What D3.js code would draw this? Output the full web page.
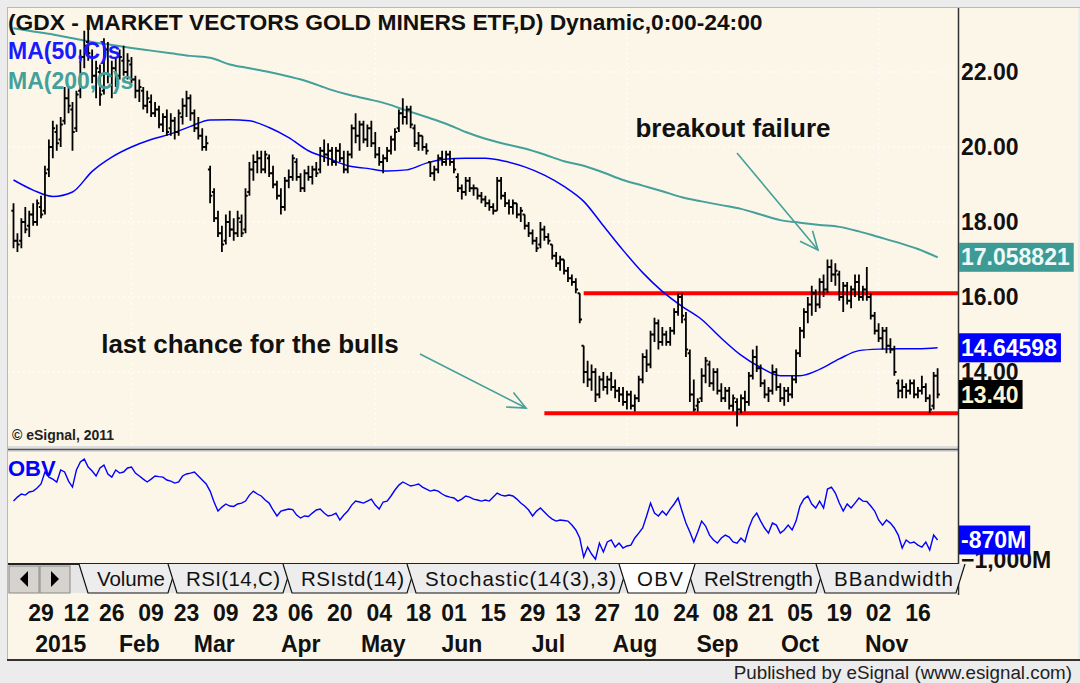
<!DOCTYPE html>
<html>
<head>
<meta charset="utf-8">
<script src="https://cdn.jsdelivr.net/npm/d3@7"></script>
<style>
  body { margin: 0; background: #ececec; }
  svg { display: block; }
  text { font-family: "Liberation Sans", Arial, sans-serif; }
</style>
</head>
<body>
<div id="chart"></div>
<script>
// trading calendar
var firstDay = "2014-12-17", lastDay = "2015-11-23";
var holidays = ["2014-12-25","2015-01-01","2015-01-19","2015-02-16","2015-04-03","2015-05-25","2015-07-03","2015-09-07"];

// daily bars [open, high, low, close]
var bars = [
  [18.3,18.5,17.3,17.5],[17.5,17.7,17.2,17.4],[17.5,18.1,17.3,18.0],[18.0,18.4,17.7,17.8],[17.9,18.3,17.6,18.2],
  [18.2,18.5,17.9,18.0],[18.0,18.6,17.9,18.5],[18.4,18.7,18.1,18.2],[18.3,19.5,18.2,19.3],[19.4,20.2,19.2,20.0],
  [20.0,20.7,19.7,20.5],[20.4,20.6,19.9,20.1],[20.2,20.8,20.0,20.6],[20.7,21.6,20.6,21.3],[21.3,21.6,20.9,21.1],
  [21.0,21.2,19.9,20.4],[20.5,21.5,20.4,21.4],[21.5,22.6,21.3,22.4],[22.4,23.1,22.1,22.7],[22.8,23.2,22.3,22.5],
  [22.4,22.6,21.7,21.9],[21.9,22.3,21.3,22.1],[22.0,22.2,21.1,21.4],[21.5,22.9,21.4,22.6],[22.6,22.8,21.7,21.9],
  [21.9,22.3,21.3,22.1],[22.1,22.4,21.6,21.8],[21.9,22.6,21.8,22.4],[22.3,22.7,21.9,22.0],[22.0,22.5,21.8,22.3],
  [22.2,22.4,21.7,21.8],[21.8,21.9,21.3,21.5],[21.5,21.8,21.2,21.6],[21.5,21.6,21.0,21.1],[21.1,21.5,20.9,21.3],
  [21.2,21.4,20.8,20.9],[20.9,21.2,20.8,21.0],[21.0,21.1,20.5,20.6],[20.6,20.9,20.4,20.8],[20.8,21.0,20.3,20.4],
  [20.5,20.9,20.3,20.7],[20.7,20.8,20.2,20.4],[20.4,21.0,20.3,20.9],[20.8,21.3,20.6,21.1],[21.1,21.5,20.8,21.3],
  [21.3,21.4,20.7,20.9],[20.9,21.0,20.4,20.5],[20.5,20.8,20.2,20.3],[20.3,20.5,19.9,20.0],[20.0,20.3,19.9,20.1],
  [19.4,19.5,18.5,18.7],[18.8,18.9,18.0,18.1],[18.1,18.3,17.6,17.7],[17.7,17.9,17.2,17.4],[17.5,18.2,17.4,18.0],
  [18.0,18.3,17.6,17.8],[17.8,18.1,17.5,17.7],[17.7,18.3,17.6,18.1],[18.0,18.2,17.6,17.7],[17.8,18.9,17.7,18.7],
  [18.8,19.6,18.7,19.4],[19.4,19.8,19.1,19.6],[19.6,19.9,19.3,19.7],[19.7,19.9,19.3,19.4],[19.4,19.9,19.3,19.8],
  [19.7,19.8,19.2,19.3],[19.3,19.5,18.9,19.0],[19.0,19.1,18.6,18.7],[18.7,18.9,18.2,18.4],[18.4,19.2,18.3,19.1],
  [19.1,19.4,18.9,19.2],[19.2,19.8,19.1,19.7],[19.6,19.7,19.1,19.2],[19.2,19.3,18.8,18.9],[18.9,19.4,18.8,19.3],
  [19.3,19.5,19.1,19.2],[19.2,19.5,19.0,19.4],[19.4,19.6,19.2,19.3],[19.4,20.0,19.3,19.9],[19.9,20.2,19.6,19.8],
  [19.8,20.1,19.5,19.9],[19.9,20.0,19.5,19.6],[19.6,20.0,19.5,19.9],[19.9,20.1,19.6,19.7],[19.7,19.9,19.3,19.4],
  [19.4,19.9,19.3,19.8],[19.8,20.6,19.7,20.5],[20.5,20.9,20.1,20.3],[20.3,20.7,19.9,20.6],[20.6,20.7,20.1,20.2],
  [20.2,20.6,20.0,20.5],[20.5,20.7,20.0,20.1],[20.1,20.4,19.7,19.8],[19.8,20.0,19.5,19.6],[19.6,19.8,19.3,19.7],
  [19.7,20.0,19.6,19.9],[19.9,20.3,19.8,20.2],[20.2,20.5,19.9,20.4],[20.5,21.0,20.4,20.9],[20.9,21.3,20.6,20.8],
  [20.8,21.1,20.6,21.0],[21.0,21.1,20.5,20.6],[20.5,20.6,20.0,20.1],[20.1,20.4,19.9,20.3],[20.3,20.3,19.9,20.0],
  [20.0,20.1,19.8,19.9],[19.6,19.6,19.2,19.3],[19.3,19.5,19.1,19.4],[19.4,19.8,19.3,19.7],[19.7,19.9,19.5,19.6],
  [19.6,19.9,19.5,19.8],[19.8,19.9,19.5,19.6],[19.6,19.7,19.3,19.4],[19.2,19.3,18.8,18.9],[18.9,19.0,18.6,18.8],
  [18.8,19.2,18.7,19.1],[19.1,19.2,18.8,18.9],[18.9,19.0,18.7,18.9],[18.9,18.9,18.6,18.7],[18.7,18.8,18.5,18.6],
  [18.6,18.7,18.4,18.5],[18.5,18.6,18.3,18.4],[18.4,18.5,18.2,18.3],[18.3,19.2,18.3,19.1],[19.1,19.2,18.6,18.7],
  [18.7,18.8,18.4,18.5],[18.5,18.6,18.2,18.4],[18.4,18.6,18.2,18.5],[18.5,18.5,18.1,18.2],[18.2,18.4,18.0,18.3],
  [18.2,18.2,17.8,17.9],[17.9,18.0,17.6,17.7],[17.7,17.8,17.4,17.5],[17.5,17.6,17.2,17.3],[17.4,18.0,17.3,17.8],
  [17.8,17.9,17.5,17.6],[17.6,17.7,17.4,17.5],[17.4,17.4,17.0,17.1],[17.1,17.2,16.8,16.9],[16.9,17.1,16.7,17.0],
  [17.0,17.0,16.6,16.7],[16.7,16.8,16.4,16.5],[16.5,16.6,16.3,16.4],[16.4,16.5,16.1,16.2],[16.1,16.1,15.3,15.4],
  [14.7,14.7,13.7,14.0],[14.0,14.3,13.6,13.8],[13.8,14.2,13.5,14.0],[14.0,14.1,13.2,13.4],[13.4,13.9,13.3,13.8],
  [13.8,14.0,13.5,13.6],[13.6,13.9,13.4,13.8],[13.8,14.0,13.5,13.6],[13.6,13.8,13.3,13.5],[13.5,13.6,13.2,13.4],
  [13.4,13.6,13.1,13.2],[13.2,13.5,13.0,13.4],[13.4,13.5,13.0,13.1],[13.1,13.4,12.95,13.3],[13.3,13.9,13.2,13.8],
  [13.8,14.5,13.7,14.4],[14.4,14.6,14.0,14.2],[14.2,15.1,14.1,15.0],[15.0,15.45,14.8,15.3],[15.3,15.4,14.6,14.8],
  [14.8,15.2,14.7,15.0],[15.0,15.1,14.7,14.8],[14.8,15.2,14.7,15.1],[15.1,15.7,15.0,15.6],[15.6,16.1,15.5,16.0],
  [16.0,16.1,15.3,15.5],[15.4,15.6,14.4,14.6],[14.5,14.6,13.2,13.4],[13.4,13.8,12.95,13.0],[13.1,13.3,12.95,13.2],
  [13.3,14.1,13.2,13.9],[13.9,14.4,13.7,14.3],[14.2,14.3,13.6,13.7],[13.7,14.1,13.5,14.0],[14.0,14.1,13.4,13.5],
  [13.5,13.7,13.2,13.3],[13.3,13.6,13.2,13.5],[13.5,13.6,13.0,13.1],[13.1,13.4,12.95,13.3],[13.2,13.3,12.55,13.0],
  [13.0,13.4,12.9,13.3],[13.3,13.5,12.95,13.2],[13.2,14.0,13.1,13.9],[13.9,14.6,13.8,14.4],[14.4,14.7,14.0,14.1],
  [14.1,14.2,13.6,13.7],[13.7,13.8,13.3,13.4],[13.4,13.6,13.2,13.5],[13.5,14.2,13.4,14.0],[14.0,14.1,13.5,13.6],
  [13.6,13.7,13.2,13.3],[13.3,13.6,13.1,13.5],[13.5,13.6,13.2,13.4],[13.4,13.9,13.3,13.8],[13.8,14.6,13.7,14.5],
  [14.5,15.2,14.4,15.1],[15.1,15.7,14.9,15.6],[15.6,16.0,15.3,15.8],[15.8,16.3,15.5,16.1],[16.1,16.2,15.6,15.8],
  [15.8,16.5,15.7,16.4],[16.4,16.6,16.0,16.2],[16.2,17.0,16.1,16.8],[16.8,17.0,16.4,16.6],[16.6,16.9,16.3,16.7],
  [16.6,16.7,15.9,16.0],[16.0,16.4,15.6,16.3],[16.3,16.4,15.8,15.9],[15.9,16.3,15.7,16.2],[16.2,16.6,16.0,16.4],
  [16.4,16.6,15.9,16.0],[16.0,16.3,15.9,16.2],[16.2,16.8,15.9,16.0],[16.0,16.1,15.4,15.5],[15.5,15.6,15.0,15.1],
  [15.1,15.3,14.8,14.9],[14.9,15.2,14.6,15.1],[15.1,15.2,14.5,14.7],[14.7,14.9,14.5,14.6],[14.6,14.7,13.9,14.0],
  [13.7,13.8,13.3,13.5],[13.5,13.8,13.3,13.6],[13.6,13.7,13.3,13.5],[13.5,13.8,13.4,13.7],[13.7,13.8,13.3,13.4],
  [13.4,13.6,13.3,13.5],[13.5,13.9,13.4,13.6],[13.6,13.7,13.2,13.3],[13.3,13.4,12.9,13.0],[13.1,14.0,13.0,13.9],
  [13.9,14.1,13.3,13.4]
];

// moving averages, one value every 5th bar
var maStep = 5;
var ma50 = [19.12,18.85,18.68,18.8,19.35,19.73,20.0,20.2,20.35,20.55,20.72,20.73,20.7,20.52,20.25,19.9,
  19.7,19.5,19.43,19.36,19.39,19.57,19.68,19.7,19.7,19.62,19.47,19.25,18.95,18.55,17.9,17.25,16.65,16.15,
  15.75,15.4,14.9,14.45,14.12,13.9,13.9,14.07,14.35,14.57,14.61,14.62,14.62,14.646];
var ma200 = [23.17,23.08,23.0,22.9,22.8,22.72,22.64,22.57,22.5,22.43,22.38,22.2,22.1,22.0,21.88,21.74,
  21.55,21.4,21.28,21.15,20.97,20.8,20.62,20.4,20.22,20.08,19.96,19.8,19.62,19.5,19.32,19.12,18.97,18.82,
  18.66,18.55,18.45,18.35,18.2,18.05,17.98,17.92,17.87,17.75,17.6,17.45,17.28,17.058821];

// on balance volume, millions
var obv = [-617,-591,-571,-578,-558,-552,-532,-506,-428,-461,-474,-493,-415,-428,-487,-526,-415,-363,-344,-396,
  -422,-454,-402,-383,-441,-461,-415,-435,-428,-402,-396,-435,-454,-474,-493,-474,-454,-458,-461,-480,
  -487,-500,-493,-454,-441,-435,-428,-454,-480,-506,-552,-623,-682,-656,-636,-649,-652,-636,-630,-617,
  -578,-552,-571,-584,-610,-630,-675,-714,-682,-675,-669,-672,-708,-727,-714,-717,-695,-675,-669,-695,
  -714,-708,-695,-740,-708,-682,-643,-617,-623,-630,-617,-604,-643,-669,-623,-617,-584,-545,-513,-493,
  -506,-519,-513,-506,-526,-539,-552,-545,-552,-571,-584,-591,-597,-617,-604,-584,-591,-604,-610,-617,
  -610,-617,-591,-565,-578,-584,-578,-584,-604,-630,-649,-675,-714,-682,-662,-688,-714,-734,-747,-740,
  -743,-747,-773,-805,-857,-981,-916,-961,-994,-890,-948,-883,-870,-916,-890,-922,-909,-903,-857,-825,
  -792,-714,-630,-695,-714,-682,-708,-669,-636,-597,-682,-760,-818,-883,-818,-747,-779,-838,-870,-890,
  -857,-838,-851,-883,-890,-857,-883,-792,-727,-695,-747,-792,-825,-760,-773,-825,-805,-773,-805,-747,
  -649,-604,-584,-636,-662,-617,-662,-539,-526,-565,-630,-682,-636,-662,-630,-597,-617,-620,-649,-682,
  -740,-773,-740,-760,-792,-838,-922,-870,-890,-883,-903,-916,-883,-935,-838,-870];

var priceTicks = [14, 16, 18, 20, 22];
var lastClose = 13.40;
var obvTick = -1000;
var levels = [{price: 16.1, from: "2015-07-17"}, {price: 12.9, from: "2015-07-02"}];

var dayTicks = ["2014-12-29","2015-01-12","2015-01-26","2015-02-09","2015-02-23","2015-03-09","2015-03-23",
  "2015-04-06","2015-04-20","2015-05-04","2015-05-18","2015-06-01","2015-06-15","2015-06-29","2015-07-13",
  "2015-07-27","2015-08-10","2015-08-24","2015-09-08","2015-09-21","2015-10-05","2015-10-19","2015-11-02","2015-11-16"];
var monthLabels = [["2015-01-02","2015"],["2015-02-02","Feb"],["2015-03-02","Mar"],["2015-04-01","Apr"],
  ["2015-05-01","May"],["2015-06-01","Jun"],["2015-07-01","Jul"],["2015-08-03","Aug"],["2015-09-01","Sep"],
  ["2015-10-01","Oct"],["2015-11-02","Nov"]];
var tabs = ["Volume","RSI(14,C)","RSIstd(14)","Stochastic(14(3),3)","OBV","RelStrength","BBandwidth"];
var activeTab = "OBV";

var parse = d3.utcParse("%Y-%m-%d"), fmt = d3.utcFormat("%Y-%m-%d");
var days = d3.utcDays(parse(firstDay), d3.utcDay.offset(parse(lastDay), 1))
  .filter(d => d.getUTCDay() % 6 != 0 && holidays.indexOf(fmt(d)) < 0)
  .map(fmt);
if (days.length != bars.length) console.log("bar count", days.length, bars.length);

var width = 1080, height = 683;
var cream = "#fcf6e8", teal = "#44a09a", blue = "#0000ff";
var svg = d3.select("#chart").append("svg").attr("width", width).attr("height", height);

// scales
var x = d3.scalePoint().domain(days).range([13.5, 937.6]);
var y = d3.scaleLinear().domain([12, 22]).range([447, 72]);
var yObv = d3.scaleLinear().domain([-1000, -870]).range([560, 540]);

// frame
svg.append("rect").attr("width", width).attr("height", height).attr("fill", "#ececec");
svg.append("rect").attr("x", 8).attr("y", 8).attr("width", 1070).attr("height", 652).attr("fill", cream);
svg.append("line").attr("x1", 7).attr("x2", 1080).attr("y1", 7.5).attr("y2", 7.5).attr("stroke", "#b8b8b8");
svg.append("line").attr("x1", 7.5).attr("x2", 7.5).attr("y1", 7).attr("y2", 660).attr("stroke", "#b8b8b8");

// grid
var grid = svg.append("g").attr("stroke", "#ffffff").attr("stroke-width", 1.5).attr("stroke-dasharray", "1.5,3.5");
grid.selectAll("line.h").data(priceTicks).join("line")
  .attr("x1", 8).attr("x2", 958).attr("y1", d => y(d)).attr("y2", d => y(d));
grid.selectAll("line.v").data(monthLabels.filter((d, i) => i % 3 == 1)).join("line")
  .attr("x1", d => x(d[0])).attr("x2", d => x(d[0])).attr("y1", 8).attr("y2", 446);

// panel separator
svg.append("rect").attr("x", 8).attr("y", 446).attr("width", 950).attr("height", 6).attr("fill", "#dcdcdc");
svg.append("line").attr("x1", 8).attr("x2", 958).attr("y1", 449.5).attr("y2", 449.5).attr("stroke", "#555").attr("stroke-width", 1.5);

// support / resistance
svg.append("g").selectAll("line").data(levels).join("line")
  .attr("x1", d => x(d.from)).attr("x2", 958)
  .attr("y1", d => y(d.price)).attr("y2", d => y(d.price))
  .attr("stroke", "#ff0000").attr("stroke-width", 4);

// moving averages
var maLine = d3.line().x((d, i) => x(days[i * maStep])).y(d => y(d)).curve(d3.curveMonotoneX);
svg.append("path").attr("d", maLine(ma200)).attr("fill", "none").attr("stroke", teal).attr("stroke-width", 2);
svg.append("path").attr("d", maLine(ma50)).attr("fill", "none").attr("stroke", blue).attr("stroke-width", 1.5);

// OHLC bars
svg.append("g").attr("stroke", "#000").attr("stroke-width", 1.8).attr("fill", "none")
  .selectAll("path").data(bars).join("path")
  .attr("d", (d, i) => {
    var cx = x(days[i]);
    return "M" + cx + "," + y(d[1]) + "V" + y(d[2]) +
      "M" + (cx - 2.2) + "," + y(d[0]) + "H" + cx +
      "M" + cx + "," + y(d[3]) + "H" + (cx + 2.2);
  });

// OBV line
var obvLine = d3.line().x((d, i) => x(days[i])).y(d => yObv(d));
svg.append("path").attr("d", obvLine(obv)).attr("fill", "none").attr("stroke", blue).attr("stroke-width", 1.4);

// annotations
function arrow(x1, y1, x2, y2) {
  var a = Math.atan2(y2 - y1, x2 - x1), len = 20, spread = 0.42;
  var g = svg.append("g").attr("stroke", teal).attr("stroke-width", 1.6).attr("fill", "none");
  g.append("line").attr("x1", x1).attr("y1", y1).attr("x2", x2).attr("y2", y2);
  g.append("path").attr("d", "M" + (x2 - len * Math.cos(a - spread)) + "," + (y2 - len * Math.sin(a - spread)) +
    "L" + x2 + "," + y2 + "L" + (x2 - len * Math.cos(a + spread)) + "," + (y2 - len * Math.sin(a + spread)));
}
arrow(737, 153, 818, 250);
arrow(420, 354, 526, 408);
svg.append("text").attr("x", 733).attr("y", 137).attr("text-anchor", "middle")
  .attr("font-size", 26).attr("font-weight", "bold").attr("fill", "#111").text("breakout failure");
svg.append("text").attr("x", 250).attr("y", 353).attr("text-anchor", "middle")
  .attr("font-size", 26).attr("font-weight", "bold").attr("fill", "#111").text("last chance for the bulls");

// titles
svg.append("text").attr("x", 8).attr("y", 30).attr("font-size", 22.8).attr("font-weight", "bold")
  .attr("fill", "#111").text("(GDX - MARKET VECTORS GOLD MINERS ETF,D) Dynamic,0:00-24:00");
svg.append("text").attr("x", 8).attr("y", 59).attr("font-size", 23).attr("font-weight", "bold")
  .attr("fill", "#1a1aff").text("MA(50,C)s");
svg.append("text").attr("x", 8).attr("y", 89).attr("font-size", 23).attr("font-weight", "bold")
  .attr("fill", teal).text("MA(200,C)s");
svg.append("text").attr("x", 12).attr("y", 440).attr("font-size", 14).attr("font-weight", "bold")
  .attr("fill", "#222").text("\u00a9 eSignal, 2011");
svg.append("text").attr("x", 8).attr("y", 476).attr("font-size", 22).attr("font-weight", "bold")
  .attr("fill", blue).text("OBV");

// right axis
svg.append("line").attr("x1", 958.5).attr("x2", 958.5).attr("y1", 8).attr("y2", 595).attr("stroke", "#333").attr("stroke-width", 1.5);
svg.append("g").selectAll("text").data(priceTicks).join("text")
  .attr("x", 961).attr("y", d => y(d) + 8).attr("font-size", 23).attr("font-weight", "bold")
  .attr("fill", "#111").text(d => d.toFixed(2));
svg.append("text").attr("x", 961).attr("y", yObv(obvTick) + 8).attr("font-size", 23).attr("font-weight", "bold")
  .attr("fill", "#111").text(d3.format(",")(obvTick) + "M");

// value boxes
function valueBox(v, label, bg, fg, scale) {
  var g = svg.append("g");
  var t = g.append("text").attr("x", 961).attr("y", scale(v) + 8).attr("font-size", 23).attr("font-weight", "bold")
    .attr("fill", fg).text(label);
  var w = t.node().getComputedTextLength();
  g.insert("rect", "text").attr("x", 959).attr("y", scale(v) - 14.5).attr("width", w + 6).attr("height", 29).attr("fill", bg);
}
valueBox(ma200[ma200.length - 1], ma200[ma200.length - 1].toFixed(6), "#3d9a94", "#eefaf8", y);
valueBox(ma50[ma50.length - 1], "14.64598", blue, "#ffffff", y);
valueBox(lastClose, lastClose.toFixed(2), "#000000", "#fff4d0", y);
valueBox(obv[obv.length - 1], obv[obv.length - 1] + "M", blue, "#ffffff", yObv);

// tab strip (label widths as drawn by the platform)
var tabTop = 564, tabBot = 593;
var tabTextWidth = [68, 94, 103, 191, 46, 109, 119];
svg.append("rect").attr("x", 8).attr("y", tabTop).attr("width", 950).attr("height", tabBot - tabTop).attr("fill", "#e6e6e6");
svg.append("line").attr("x1", 8).attr("x2", 958).attr("y1", tabTop).attr("y2", tabTop).attr("stroke", "#222").attr("stroke-width", 2);
[[9, "M28,571L20,579L28,587Z"], [40, "M51,571L59,579L51,587Z"]].forEach(b => {
  svg.append("rect").attr("x", b[0]).attr("y", tabTop + 2).attr("width", 30).attr("height", 27)
    .attr("fill", "#d6d3ce").attr("stroke", "#888");
  svg.append("path").attr("d", b[1]).attr("fill", "#000");
});
var tg = svg.append("g");
var textStart = 97, tabPos = [];
tabs.forEach((name, i) => {
  var w = tabTextWidth[i];
  tabPos.push({name: name, t0: textStart, w: w});
  textStart += w + 21;
});
var order = tabPos.filter(d => d.name != activeTab).concat(tabPos.filter(d => d.name == activeTab));
order.forEach(d => {
  var on = d.name == activeTab, x0 = d.t0 - 18, x1 = d.t0 + d.w + 12;
  tg.append("path").attr("d", "M" + x0 + "," + tabTop + "L" + (x0 + 9) + "," + tabBot + "L" + (x1 - 9) + "," + tabBot + "L" + x1 + "," + tabTop)
    .attr("fill", on ? "#ffffff" : "#ededed").attr("stroke", "#111").attr("stroke-width", 1.2);
  tg.append("text").attr("x", d.t0).attr("y", 586)
    .attr("textLength", d.w).attr("lengthAdjust", "spacing")
    .attr("font-size", 20.5).attr("fill", "#111").text(d.name);
});

// date axis
var fmtDay = d3.utcFormat("%d");
svg.append("g").selectAll("text").data(dayTicks).join("text")
  .attr("x", d => x(d)).attr("y", 621).attr("text-anchor", "middle")
  .attr("font-size", 23).attr("font-weight", "bold").attr("fill", "#111")
  .text(d => fmtDay(parse(d)));
svg.append("g").selectAll("text").data(monthLabels).join("text")
  .attr("x", d => x(d[0]) + 8).attr("y", 652).attr("text-anchor", "middle")
  .attr("font-size", 23).attr("font-weight", "bold").attr("fill", "#111")
  .text(d => d[1]);

// status bar
svg.append("line").attr("x1", 7).attr("x2", 1080).attr("y1", 660).attr("y2", 660).attr("stroke", "#333").attr("stroke-width", 2);
svg.append("rect").attr("x", 0).attr("y", 661).attr("width", width).attr("height", 22).attr("fill", "#ececec");
svg.append("text").attr("x", 1072).attr("y", 679).attr("text-anchor", "end").attr("font-size", 18.8)
  .attr("fill", "#222").text("Published by eSignal (www.esignal.com)");
</script>
</body>
</html>
